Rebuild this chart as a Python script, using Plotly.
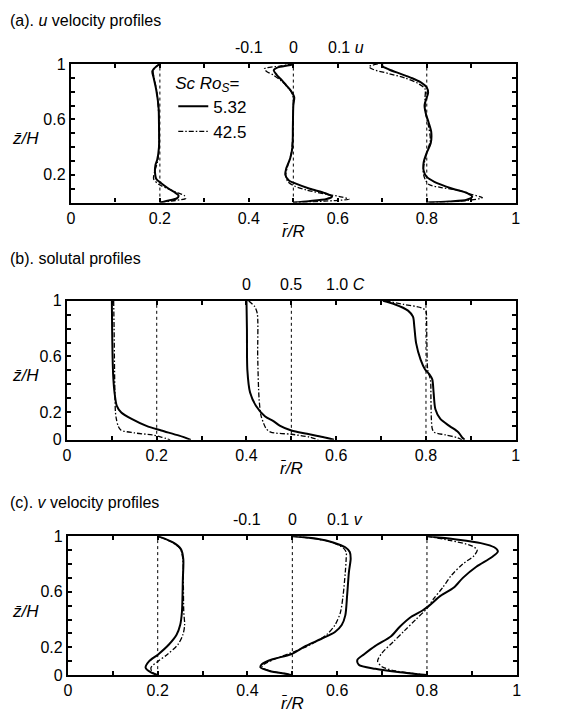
import plotly.graph_objects as go

FONT = "Liberation Sans, Arial, sans-serif"

# radial stations (r/R) where profiles are drawn
stations = [0.2, 0.5, 0.8]
cases = ["5.32", "42.5"]

# ---------------- panel (a): u velocity ----------------
a_z_l1 = [1.0, 0.97, 0.946, 0.90, 0.81, 0.69, 0.55, 0.40, 0.31, 0.27, 0.22, 0.17, 0.14, 0.10, 0.07, 0.05, 0.03, 0.015, 0.0]
a_u_l1 = [0.0, -0.012, -0.017, -0.014, -0.008, -0.003, -0.002, -0.002, -0.006, -0.010, -0.011, -0.008, 0.003, 0.02, 0.035, 0.042, 0.038, 0.02, 0.0]
a_z_l2 = [1.0, 0.96, 0.90, 0.80, 0.6, 0.4, 0.3, 0.22, 0.17, 0.13, 0.10, 0.07, 0.05, 0.03, 0.015, 0.0]
a_u_l2 = [0.0, -0.015, -0.013, -0.007, -0.002, -0.002, -0.005, -0.012, -0.014, -0.002, 0.018, 0.04, 0.055, 0.058, 0.035, 0.0]

a_z_m1 = [1.0, 0.99, 0.975, 0.955, 0.92, 0.88, 0.85, 0.80, 0.76, 0.70, 0.55, 0.40, 0.32, 0.27, 0.245, 0.20, 0.16, 0.14, 0.10, 0.067, 0.043, 0.026, 0.01, 0.0]
a_u_m1 = [0.0, -0.01, -0.035, -0.044, -0.037, -0.025, -0.017, -0.004, 0.002, 0.0, -0.001, -0.002, -0.007, -0.013, -0.016, -0.018, -0.01, 0.003, 0.037, 0.072, 0.087, 0.075, 0.035, 0.0]
a_z_m2 = [1.0, 0.985, 0.965, 0.945, 0.92, 0.88, 0.83, 0.78, 0.7, 0.5, 0.35, 0.25, 0.19, 0.15, 0.12, 0.09, 0.06, 0.04, 0.025, 0.01, 0.0]
a_u_m2 = [0.0, -0.03, -0.065, -0.06, -0.045, -0.028, -0.012, -0.002, 0.0, -0.001, -0.005, -0.014, -0.017, -0.012, 0.002, 0.03, 0.075, 0.11, 0.125, 0.07, 0.0]

a_z_r1 = [1.0, 0.985, 0.96, 0.93, 0.90, 0.87, 0.83, 0.79, 0.74, 0.70, 0.64, 0.58, 0.51, 0.43, 0.36, 0.29, 0.23, 0.185, 0.15, 0.10, 0.067, 0.043, 0.02, 0.008, 0.0]
a_u_r1 = [-0.1, -0.1, -0.085, -0.06, -0.035, -0.015, 0.0, 0.003, -0.002, -0.005, -0.002, 0.004, 0.01, 0.009, 0.0, -0.007, -0.007, 0.0, 0.017, 0.058, 0.092, 0.102, 0.09, 0.05, 0.0]
a_z_r2 = [1.0, 0.98, 0.96, 0.93, 0.90, 0.86, 0.82, 0.75, 0.65, 0.55, 0.45, 0.36, 0.28, 0.22, 0.17, 0.13, 0.11, 0.09, 0.06, 0.035, 0.015, 0.0]
a_u_r2 = [-0.11, -0.13, -0.12, -0.085, -0.05, -0.02, -0.004, -0.004, -0.003, 0.004, 0.008, 0.0, -0.006, -0.008, -0.004, 0.005, 0.03, 0.07, 0.10, 0.125, 0.09, 0.0]

# ---------------- panel (b): solute concentration ----------------
b_z_l1 = [1.0, 0.8, 0.6, 0.46, 0.34, 0.245, 0.197, 0.15, 0.10, 0.067, 0.03, 0.0]
b_c_l1 = [0.0, 0.003, 0.008, 0.015, 0.03, 0.055, 0.105, 0.22, 0.385, 0.55, 0.75, 0.88]
b_z_l2 = [1.0, 0.8, 0.5, 0.3, 0.2, 0.15, 0.10, 0.07, 0.05, 0.035, 0.02, 0.0]
b_c_l2 = [0.02, 0.025, 0.03, 0.035, 0.04, 0.05, 0.07, 0.1, 0.25, 0.45, 0.55, 0.65]

b_z_m1 = [1.0, 0.8, 0.5, 0.34, 0.245, 0.17, 0.135, 0.10, 0.067, 0.043, 0.02, 0.0]
b_c_m1 = [0.0, 0.005, 0.01, 0.04, 0.105, 0.205, 0.3, 0.375, 0.5, 0.675, 0.85, 0.975]
b_z_m2 = [1.0, 0.96, 0.91, 0.6, 0.3, 0.18, 0.12, 0.08, 0.055, 0.04, 0.02, 0.0]
b_c_m2 = [0.025, 0.09, 0.12, 0.125, 0.14, 0.16, 0.19, 0.22, 0.27, 0.5, 0.7, 0.8]

b_z_r1 = [1.0, 0.976, 0.93, 0.886, 0.815, 0.696, 0.577, 0.506, 0.47, 0.435, 0.34, 0.22, 0.15, 0.10, 0.055, 0.02, 0.0]
b_c_r1 = [0.02, 0.15, 0.3, 0.355, 0.37, 0.39, 0.44, 0.49, 0.54, 0.57, 0.585, 0.605, 0.66, 0.76, 0.86, 0.9, 0.93]
b_z_r2 = [1.0, 0.975, 0.95, 0.93, 0.9, 0.7, 0.5, 0.43, 0.3, 0.15, 0.08, 0.055, 0.035, 0.015, 0.0]
b_c_r2 = [0.05, 0.25, 0.45, 0.5, 0.505, 0.51, 0.52, 0.55, 0.555, 0.56, 0.57, 0.59, 0.72, 0.85, 0.9]

# ---------------- panel (c): v velocity ----------------
c_z_l1 = [1.0, 0.953, 0.905, 0.835, 0.69, 0.456, 0.36, 0.29, 0.22, 0.149, 0.10, 0.054, 0.019, 0.0]
c_v_l1 = [0.0, 0.035, 0.052, 0.057, 0.056, 0.054, 0.05, 0.042, 0.025, 0.001, -0.019, -0.027, -0.015, 0.0]
c_z_l2 = [1.0, 0.953, 0.905, 0.835, 0.69, 0.456, 0.36, 0.29, 0.22, 0.15, 0.10, 0.054, 0.019, 0.0]
c_v_l2 = [0.0, 0.034, 0.051, 0.056, 0.057, 0.058, 0.06, 0.056, 0.045, 0.022, 0.001, -0.015, -0.012, 0.0]

c_z_m1 = [1.0, 0.98, 0.955, 0.92, 0.886, 0.84, 0.74, 0.57, 0.43, 0.36, 0.31, 0.26, 0.21, 0.15, 0.114, 0.078, 0.055, 0.03, 0.007, 0.0]
c_v_m1 = [0.0, 0.058, 0.091, 0.118, 0.128, 0.13, 0.126, 0.122, 0.118, 0.11, 0.095, 0.064, 0.03, -0.003, -0.044, -0.068, -0.071, -0.051, -0.01, 0.0]
c_z_m2 = [1.0, 0.98, 0.955, 0.92, 0.886, 0.84, 0.74, 0.57, 0.45, 0.36, 0.29, 0.22, 0.17, 0.12, 0.08, 0.055, 0.03, 0.007, 0.0]
c_v_m2 = [0.0, 0.055, 0.088, 0.112, 0.12, 0.12, 0.118, 0.113, 0.107, 0.095, 0.076, 0.041, 0.005, -0.035, -0.062, -0.068, -0.05, -0.01, 0.0]

c_z_r1 = [1.0, 0.975, 0.95, 0.92, 0.89, 0.85, 0.78, 0.70, 0.63, 0.57, 0.50, 0.465, 0.42, 0.35, 0.28, 0.21, 0.15, 0.11, 0.075, 0.045, 0.02, 0.0]
c_v_r1 = [0.0, 0.07, 0.12, 0.15, 0.158, 0.145, 0.11, 0.08, 0.06, 0.03, 0.005, -0.01, -0.035, -0.06, -0.08, -0.115, -0.14, -0.155, -0.152, -0.115, -0.06, 0.0]
c_z_r2 = [1.0, 0.97, 0.93, 0.90, 0.86, 0.80, 0.72, 0.63, 0.55, 0.48, 0.40, 0.32, 0.24, 0.16, 0.10, 0.06, 0.03, 0.0]
c_v_r2 = [0.0, 0.05, 0.10, 0.112, 0.105, 0.08, 0.055, 0.035, 0.015, 0.0, -0.025, -0.05, -0.075, -0.10, -0.11, -0.10, -0.07, 0.0]

# top-axis scale labels for each panel
a_top_vals = [-0.1, 0.0, 0.1]
a_top_text = ["-0.1", "0", "0.1 <i>u</i>"]
b_top_vals = [0.0, 0.5, 1.0]
b_top_text = ["0", "0.5", "1.0 <i>C</i>"]
c_top_vals = [-0.1, 0.0, 0.1]
c_top_text = ["-0.1", "0", "0.1 <i>v</i>"]

x_ticks = [round(0.1 * i, 1) for i in range(11)]
x_ticktext = ["0", "", "0.2", "", "0.4", "", "0.6", "", "0.8", "", "1"]
y_ticks = [round(0.1 * i, 1) for i in range(11)]
y_ticktext_a = ["", "", "0.2", "", "", "", "0.6", "", "", "", "1"]
y_ticktext_bc = ["0", "", "0.2", "", "", "", "0.6", "", "", "", "1"]

FS = 16


def x_vel(r0, val):
    return r0 + val


def x_conc(r0, val):
    return r0 - 0.1 + 0.2 * val


panels = [
    dict(name="a", ax="", tf=x_vel,
         data=[(a_z_l1, a_u_l1, a_z_l2, a_u_l2), (a_z_m1, a_u_m1, a_z_m2, a_u_m2), (a_z_r1, a_u_r1, a_z_r2, a_u_r2)],
         top_vals=a_top_vals, top_text=a_top_text, yt=y_ticktext_a,
         title="(a). <i>u</i> velocity profiles",
         dom_x=[68 / 566, 520 / 566], dom_y=[1 - 199.3 / 717, 1 - 57.3 / 717], title_y=1 - 13 / 717),
    dict(name="b", ax="2", tf=x_conc,
         data=[(b_z_l1, b_c_l1, b_z_l2, b_c_l2), (b_z_m1, b_c_m1, b_z_m2, b_c_m2), (b_z_r1, b_c_r1, b_z_r2, b_c_r2)],
         top_vals=b_top_vals, top_text=b_top_text, yt=y_ticktext_bc,
         title="(b). solutal profiles",
         dom_x=[64 / 566, 520 / 566], dom_y=[1 - 442.3 / 717, 1 - 300 / 717], title_y=1 - 257 / 717),
    dict(name="c", ax="3", tf=x_vel,
         data=[(c_z_l1, c_v_l1, c_z_l2, c_v_l2), (c_z_m1, c_v_m1, c_z_m2, c_v_m2), (c_z_r1, c_v_r1, c_z_r2, c_v_r2)],
         top_vals=c_top_vals, top_text=c_top_text, yt=y_ticktext_bc,
         title="(c). <i>v</i> velocity profiles",
         dom_x=[65 / 566, 521 / 566], dom_y=[1 - 683.3 / 717, 1 - 541 / 717], title_y=1 - 506 / 717),
]

fig = go.Figure()
annotations = []
shapes = []
layout_axes = {}

for p in panels:
    xa = "x" + p["ax"]
    ya = "y" + p["ax"]
    for si, (r0, prof) in enumerate(zip(stations, p["data"])):
        z1, v1, z2, v2 = prof
        fig.add_trace(go.Scatter(
            x=[p["tf"](r0, v) for v in v2], y=z2, mode="lines",
            line=dict(color="black", width=1.3, dash="5px,2px,1.5px,2px", shape="spline", smoothing=0.8),
            name=cases[1], legendrank=2,
            showlegend=(p["name"] == "a" and si == 0), xaxis=xa, yaxis=ya))
        fig.add_trace(go.Scatter(
            x=[p["tf"](r0, v) for v in v1], y=z1, mode="lines",
            line=dict(color="black", width=2, shape="spline", smoothing=0.8),
            name=cases[0], legendrank=1,
            showlegend=(p["name"] == "a" and si == 0), xaxis=xa, yaxis=ya))
        shapes.append(dict(type="line", xref=xa, yref=ya + " domain", x0=r0, x1=r0, y0=0, y1=1,
                           line=dict(color="black", width=1, dash="dot"), layer="below"))

    # top scale labels (centred on the middle station)
    for val, txt in zip(p["top_vals"], p["top_text"]):
        last = txt.endswith("</i>")
        annotations.append(dict(
            x=p["tf"](stations[1], val), y=1, xref=xa, yref=ya + " domain",
            text=txt, showarrow=False, yanchor="bottom", yshift=6,
            xanchor="left" if last else "center", xshift=-12 if last else 0,
            font=dict(family=FONT, size=FS, color="black")))

    # panel title
    annotations.append(dict(x=4 / 566, y=p["title_y"], xref="paper", yref="paper",
                            text=p["title"], showarrow=False, xanchor="left", yanchor="middle",
                            font=dict(family=FONT, size=FS, color="black")))
    # axis titles
    annotations.append(dict(x=0.5, y=0, xref=xa + " domain", yref=ya + " domain",
                            text="<i>r\u0304/R</i>", showarrow=False, xanchor="center", yanchor="top",
                            yshift=-17, font=dict(family=FONT, size=17, color="black")))
    annotations.append(dict(x=6 / 566, y=0.46, xref="paper", yref=ya + " domain",
                            text="<i>z\u0304/H</i>", showarrow=False, xanchor="left", yanchor="middle",
                            font=dict(family=FONT, size=17, color="black")))

    key = "" if p["ax"] == "" else p["ax"]
    layout_axes["xaxis" + key] = dict(
        domain=p["dom_x"], range=[0, 1], anchor=ya, tickvals=x_ticks, ticktext=x_ticktext,
        ticks="inside", ticklen=4, tickwidth=1.5, tickcolor="black",
        showline=True, linewidth=2.2, linecolor="black", mirror="allticks",
        showgrid=False, zeroline=False, fixedrange=True,
        tickfont=dict(family=FONT, size=FS, color="black"))
    layout_axes["yaxis" + key] = dict(
        domain=p["dom_y"], range=[0, 1], anchor=xa, tickvals=y_ticks, ticktext=p["yt"],
        ticks="inside", ticklen=4, tickwidth=1.5, tickcolor="black",
        showline=True, linewidth=2.2, linecolor="black", mirror="allticks",
        showgrid=False, zeroline=False, fixedrange=True,
        tickfont=dict(family=FONT, size=FS, color="black"))

fig.update_layout(
    width=566, height=717, margin=dict(l=0, r=0, t=0, b=0),
    paper_bgcolor="white", plot_bgcolor="white",
    font=dict(family=FONT, size=FS, color="black"),
    annotations=annotations, shapes=shapes,
    showlegend=True,
    legend=dict(x=172 / 566, y=1 - 60 / 717, xanchor="left", yanchor="top",
                bgcolor="rgba(0,0,0,0)", borderwidth=0, itemwidth=30,
                title=dict(text="<i>Sc Ro<sub>S</sub></i>=", side="top",
                           font=dict(family=FONT, size=17, color="black")),
                font=dict(family=FONT, size=17, color="black")),
    **layout_axes,
)

fig.write_html("out.html")
